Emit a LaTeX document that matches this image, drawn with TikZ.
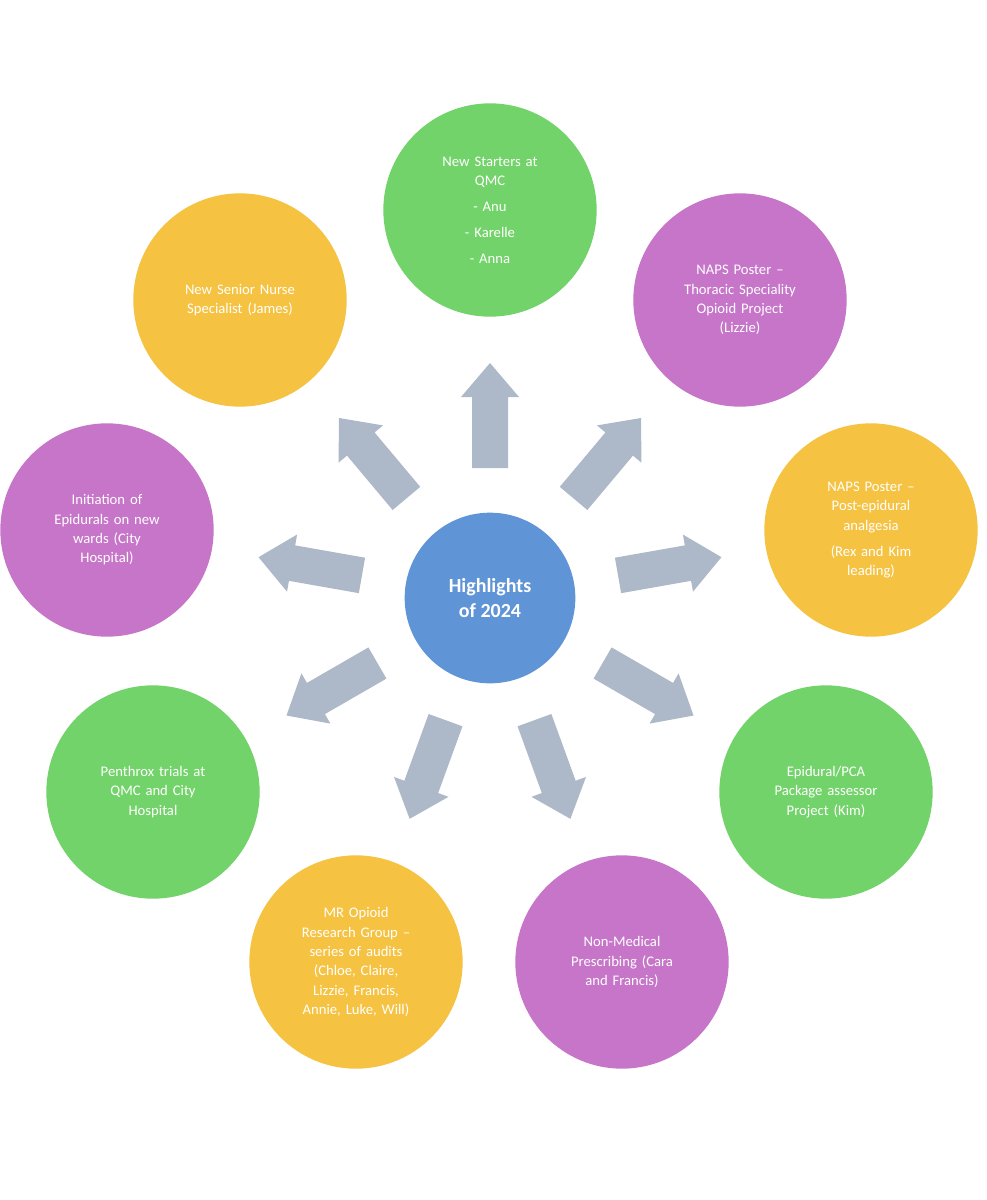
\documentclass[tikz,border=0pt]{standalone}
\usepackage{fontspec}
\setmainfont{Carlito}
\definecolor{cgreen}{HTML}{73D36B}
\definecolor{cpurple}{HTML}{C675C8}
\definecolor{cyellow}{HTML}{F5C242}
\definecolor{cblue}{HTML}{5F94D6}
\definecolor{carrow}{HTML}{ADB9C9}
\begin{document}
\begin{tikzpicture}[x=0.75pt,y=-0.75pt,
  bub/.style={circle,minimum size=160pt,inner sep=0pt,text width=112pt,align=center,text=white,font=\fontsize{11}{14.5}\selectfont},
  arr/.style={fill=carrow}]
\useasboundingbox[fill=white] (0,0) rectangle (986,1200);
\node[circle,fill=cblue,minimum size=128pt,text=white,align=center,font=\fontsize{15}{19}\selectfont\bfseries] (c) at (490,598) {Highlights\\of 2024};
\node[bub,fill=cgreen] (n1) at (490,210) {New Starters at\\QMC\\[5pt] - Anu\\[5pt] - Karelle\\[5pt] - Anna};
\node[bub,fill=cpurple] (n2) at (740,300) {NAPS Poster --\\Thoracic Speciality\\Opioid Project\\(Lizzie)};
\node[bub,fill=cyellow] (n3) at (871,530) {NAPS Poster --\\Post-epidural\\analgesia\\[5pt](Rex and Kim\\leading)};
\node[bub,fill=cgreen] (n4) at (826,792) {Epidural/PCA\\Package assessor\\Project (Kim)};
\node[bub,fill=cpurple] (n5) at (622,962) {Non-Medical\\Prescribing (Cara\\and Francis)};
\node[bub,fill=cyellow] (n6) at (356,962) {MR Opioid\\Research Group --\\series of audits\\(Chloe, Claire,\\Lizzie, Francis,\\Annie, Luke, Will)};
\node[bub,fill=cgreen] (n7) at (153,792) {Penthrox trials at\\QMC and City\\Hospital};
\node[bub,fill=cpurple] (n8) at (107,530) {Initiation of\\Epidurals on new\\wards (City\\Hospital)};
\node[bub,fill=cyellow] (n9) at (240,300) {New Senior Nurse\\Specialist (James)};
\foreach \a in {90,50,10,-30,-70,-110,-150,170,130}{
  \begin{scope}[shift={(c.center)},rotate=\a]
  \fill[arr] (130,-18)--(201,-18)--(201,-29)--(235,0)--(201,29)--(201,18)--(130,18)--cycle;
  \end{scope}}
\end{tikzpicture}
\end{document}
